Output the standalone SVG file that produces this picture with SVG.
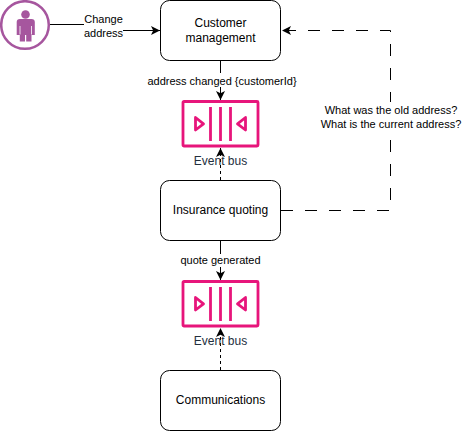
<svg xmlns="http://www.w3.org/2000/svg" width="462" height="431" viewBox="0 0 462 431">
<style>
.box{fill:#fff;stroke:#000;stroke-width:1}
.name{font:12px "Liberation Sans",Arial,sans-serif;fill:#000;text-anchor:middle}
.lbl{font:11px "Liberation Sans",Arial,sans-serif;fill:#000;text-anchor:middle}
.bus{font:12px "Liberation Sans",Arial,sans-serif;fill:#232f3e;text-anchor:middle}
.ln{fill:none;stroke:#000;stroke-width:1}
.dash{stroke-dasharray:12 12}
.dots{stroke-dasharray:3 3}
.pink{fill:none;stroke:#e7157b;stroke-width:2.800;stroke-linejoin:round}
</style>
<defs>
<marker id="a" markerUnits="userSpaceOnUse" markerWidth="11" markerHeight="11" refX="9" refY="4.500" orient="auto"><path d="M0 0L9 4.500L0 9L2.200 4.500Z" fill="#000"/></marker>
<g id="busicon">
<rect x="0" y="0" width="75" height="44.500" rx="1" class="pink"/>
<path d="M12.500 16L20.500 22.300L12.500 28.500Z" class="pink"/>
<path d="M62.500 16L54.500 22.300L62.500 28.500Z" class="pink"/>
<path d="M27.500 5.500V39.500M37.500 5.500V39.500M47.500 5.500V39.500" class="pink"/>
</g>
</defs>
<g id="connectors">
<path class="ln" d="M50 24.500H84" />
<path class="ln" d="M123 30.500H160" marker-end="url(#a)"/>
<path class="ln" d="M220.500 61V100" marker-end="url(#a)"/>
<path class="ln dots" d="M220.500 180V148" marker-end="url(#a)"/>
<path class="ln" d="M220.500 241V280" marker-end="url(#a)"/>
<path class="ln dots" d="M220.500 370V328" marker-end="url(#a)"/>
<path class="ln dash" d="M281 210.500H390.500V30.500H282" marker-end="url(#a)"/>
</g>
<g id="person">
<circle cx="25" cy="25" r="23.800" fill="#fff" stroke="#a6569e" stroke-width="2.500"/>
<circle cx="25.500" cy="14.500" r="4.300" fill="#a6569e"/>
<path d="M16.700 22Q16.700 19 20 19H31.500Q34.800 19 34.800 22V35H31.500V41.500H26.200V35H25V41.500H19.800V35H16.700Z" fill="#a6569e"/>
<path d="M20 26V34.500M31.500 26V34.500" stroke="#fff" stroke-width="0.800" fill="none"/>
</g>
<g id="customer-management">
<rect class="box" x="160.500" y="0.500" width="120" height="60" rx="9"/>
<text class="name" x="220.500" y="27">Customer</text>
<text class="name" x="220.500" y="42">management</text>
</g>
<g id="event-bus-1">
<use href="#busicon" x="183" y="101.500"/>
<text class="bus" x="220.500" y="165">Event bus</text>
</g>
<g id="insurance-quoting">
<rect class="box" x="160.500" y="180.500" width="120" height="60" rx="9"/>
<text class="name" x="220.500" y="214">Insurance quoting</text>
</g>
<g id="event-bus-2">
<use href="#busicon" x="183" y="281.500"/>
<text class="bus" x="220.500" y="345">Event bus</text>
</g>
<g id="communications">
<rect class="box" x="160.500" y="370.500" width="120" height="60" rx="9"/>
<text class="name" x="220.500" y="404">Communications</text>
</g>
<g id="labels">
<text class="lbl" x="103.500" y="23">Change</text>
<text class="lbl" x="103.500" y="37">address</text>
<rect x="146" y="73" width="150" height="14" fill="#fff"/>
<text class="lbl" x="222" y="85">address changed {customerId}</text>
<rect x="180" y="254" width="82" height="13" fill="#fff"/>
<text class="lbl" x="220.500" y="264">quote generated</text>
<rect x="322" y="102" width="140" height="30" fill="#fff"/>
<text class="lbl" x="391" y="114">What was the old address?</text>
<text class="lbl" x="391" y="128">What is the current address?</text>
</g>
</svg>
